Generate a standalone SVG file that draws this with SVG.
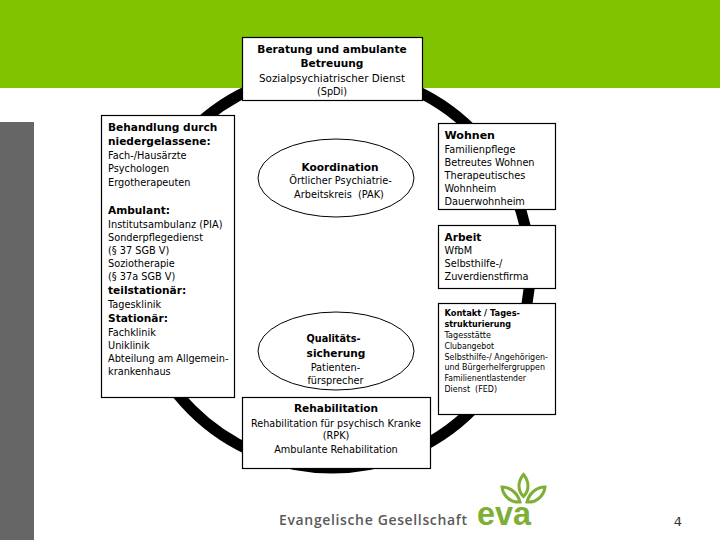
<svg xmlns="http://www.w3.org/2000/svg" width="720" height="540" viewBox="0 0 720 540">
<style>
.box{fill:#fff;stroke:#000;stroke-width:1.2}
.oval{fill:#fff;stroke:#000;stroke-width:1}
text{font-family:"DejaVu Sans",Verdana,sans-serif;fill:#000}
.h{font-size:10.6px;font-weight:bold}
.t{font-size:9.75px}
.s{font-size:8.8px}
.sh{font-size:8.8px;font-weight:bold}
.c{text-anchor:middle}
.leaf{fill:none;stroke:#7fae35;stroke-width:3}
</style>
<rect width="720" height="540" fill="#fff"/>
<rect id="band" x="0" y="0" width="720" height="88" fill="#80c400"/>
<rect id="side" x="0" y="122" width="34" height="418" fill="#666"/>
<g id="connectors">
<circle cx="332" cy="270" r="198" fill="none" stroke="#000" stroke-width="11"/>
</g>
<g id="beratung">
<rect class="box" x="242.5" y="37.5" width="180" height="63"/>
<text class="h c" x="332" y="52.5">Beratung und ambulante</text>
<text class="h c" x="332" y="66.5">Betreuung</text>
<text class="t c" x="332" y="81.5" textLength="146" lengthAdjust="spacingAndGlyphs">Sozialpsychiatrischer Dienst</text>
<text class="t c" x="332" y="95">(SpDi)</text>
</g>
<g id="behandlung">
<rect class="box" x="101.5" y="115.5" width="133" height="282"/>
<text class="h" x="108" y="130.5">Behandlung durch</text>
<text class="h" x="108" y="145">niedergelassene:</text>
<text class="t" x="108" y="158.5">Fach-/Hausärzte</text>
<text class="t" x="108" y="171.5">Psychologen</text>
<text class="t" x="108" y="185.5">Ergotherapeuten</text>
<text class="h" x="108" y="214">Ambulant:</text>
<text class="t" x="108" y="228" textLength="114.5" lengthAdjust="spacingAndGlyphs">Institutsambulanz (PIA)</text>
<text class="t" x="108" y="241">Sonderpflegedienst</text>
<text class="t" x="108" y="253.5">(§ 37 SGB V)</text>
<text class="t" x="108" y="267">Soziotherapie</text>
<text class="t" x="108" y="279.5">(§ 37a SGB V)</text>
<text class="h" x="108" y="294">teilstationär:</text>
<text class="t" x="108" y="308">Tagesklinik</text>
<text class="h" x="108" y="322">Stationär:</text>
<text class="t" x="108" y="335.5">Fachklinik</text>
<text class="t" x="108" y="349">Uniklinik</text>
<text class="t" x="108" y="362">Abteilung am Allgemein-</text>
<text class="t" x="108" y="375">krankenhaus</text>
</g>
<g id="koordination">
<ellipse class="oval" cx="336" cy="178" rx="78" ry="39"/>
<text class="h c" x="340" y="170.5">Koordination</text>
<text class="t c" x="340.5" y="183.5">Örtlicher Psychiatrie-</text>
<text class="t c" x="339" y="197.5" xml:space="preserve">Arbeitskreis  (PAK)</text>
</g>
<g id="qualitaet">
<ellipse class="oval" cx="336" cy="351" rx="78" ry="39"/>
<text class="h" x="306.5" y="342" textLength="54" lengthAdjust="spacingAndGlyphs">Qualitäts-</text>
<text class="h c" x="336" y="356.5">sicherung</text>
<text class="t c" x="335.5" y="370.5">Patienten-</text>
<text class="t c" x="335.5" y="383.5">fürsprecher</text>
</g>
<g id="wohnen">
<rect class="box" x="438.5" y="123.5" width="117" height="86"/>
<text class="h" x="444.5" y="139" textLength="50.5" lengthAdjust="spacingAndGlyphs">Wohnen</text>
<text class="t" x="444.5" y="152.5">Familienpflege</text>
<text class="t" x="444.5" y="165.5">Betreutes Wohnen</text>
<text class="t" x="444.5" y="178.5">Therapeutisches</text>
<text class="t" x="444.5" y="191.5">Wohnheim</text>
<text class="t" x="444.5" y="205">Dauerwohnheim</text>
</g>
<g id="arbeit">
<rect class="box" x="438.5" y="225.5" width="117" height="63"/>
<text class="h" x="444.5" y="240.5">Arbeit</text>
<text class="t" x="444.5" y="253.5">WfbM</text>
<text class="t" x="444.5" y="266.5">Selbsthilfe-/</text>
<text class="t" x="444.5" y="280">Zuverdienstfirma</text>
</g>
<g id="kontakt">
<rect class="box" x="438.5" y="303.5" width="117" height="111"/>
<text class="sh" x="444.5" y="316" textLength="75.5" lengthAdjust="spacingAndGlyphs">Kontakt / Tages-</text>
<text class="sh" x="444.5" y="327" textLength="66.5" lengthAdjust="spacingAndGlyphs">strukturierung</text>
<text class="s" x="444.5" y="338" textLength="46.5" lengthAdjust="spacingAndGlyphs">Tagesstätte</text>
<text class="s" x="444.5" y="349" textLength="49.5" lengthAdjust="spacingAndGlyphs">Clubangebot</text>
<text class="s" x="444.5" y="359.5" textLength="103.5" lengthAdjust="spacingAndGlyphs">Selbsthilfe-/ Angehörigen-</text>
<text class="s" x="444.5" y="370" textLength="100.5" lengthAdjust="spacingAndGlyphs">und Bürgerhelfergruppen</text>
<text class="s" x="444.5" y="381" textLength="81.5" lengthAdjust="spacingAndGlyphs">Familienentlastender</text>
<text class="s" x="444.5" y="392" textLength="52.5" lengthAdjust="spacingAndGlyphs" xml:space="preserve">Dienst  (FED)</text>
</g>
<g id="rehabilitation">
<rect class="box" x="242.5" y="397.5" width="188" height="71"/>
<text class="h c" x="336" y="412">Rehabilitation</text>
<text class="t c" x="336" y="426.5" textLength="170" lengthAdjust="spacingAndGlyphs">Rehabilitation für psychisch Kranke</text>
<text class="t c" x="336" y="439">(RPK)</text>
<text class="t c" x="336" y="452.5">Ambulante Rehabilitation</text>
</g>
<g id="logo">
<text x="279" y="525" textLength="188" lengthAdjust="spacing" style="font-family:'Open Sans',sans-serif;font-size:14px;font-weight:600;fill:#5a5a5a">Evangelische Gesellschaft</text>
<text x="477" y="525" textLength="54" lengthAdjust="spacingAndGlyphs" style="font-family:'Liberation Sans',sans-serif;font-size:34px;font-weight:bold;fill:#7fae35">eva</text>
<path class="leaf" d="M523.5 474.5C518 481 517 490 523.5 496.5C530 490 529 481 523.5 474.5Z"/>
<path class="leaf" d="M502 487C503 496 511 503 520 502C518 494 511 487 502 487Z"/>
<path class="leaf" d="M545 487C544 496 536 503 527 502C529 494 536 487 545 487Z"/>
</g>
<text id="page" x="678" y="526" style="font-size:13px;text-anchor:middle;font-family:'DejaVu Sans',sans-serif;fill:#333">4</text>
</svg>
